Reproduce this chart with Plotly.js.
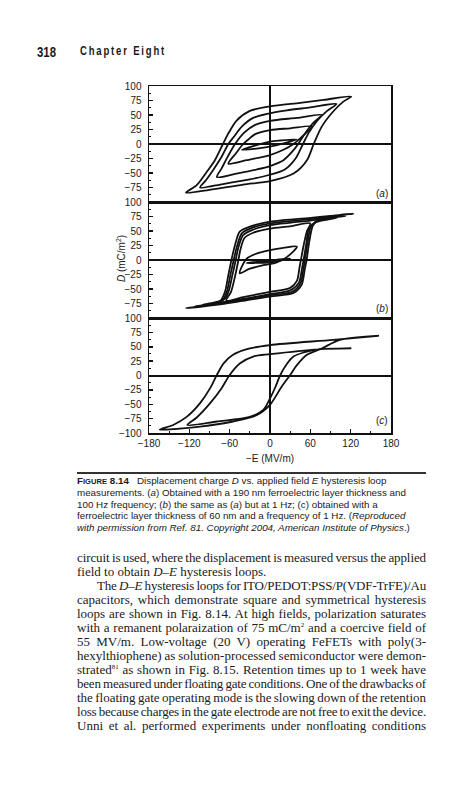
<!DOCTYPE html>
<html><head><meta charset="utf-8">
<script src="https://cdn.plot.ly/plotly-3.0.1.min.js"></script>
<style>
body{margin:0;background:#fff;}
#page{position:relative;width:469px;height:800px;overflow:hidden;background:#fff;}
#chart{position:absolute;left:0;top:0;width:469px;height:800px;}
.t{position:absolute;color:#1a1a1a;z-index:5;}
.fit{transform-origin:0 0;white-space:nowrap;}
#pno{left:37px;top:43px;font-family:"Liberation Sans",sans-serif;font-weight:bold;font-size:15px;}
#chap{left:80px;top:44px;font-family:"Liberation Sans",sans-serif;font-weight:bold;font-size:12.5px;letter-spacing:2.4px;}
#rule{position:absolute;left:77px;top:472px;width:349px;height:2px;background:#333;z-index:5;}
#cap{left:77px;top:475px;width:370px;font-family:"Liberation Sans",Arial,sans-serif;font-size:9.8px;line-height:11.4px;}
#cap div{white-space:nowrap;}
.sc{font-size:7.6px;}
#body{left:77px;top:551px;width:349px;font-family:"Liberation Serif","Times New Roman",serif;font-size:13px;line-height:14px;}
#body div{white-space:nowrap;}
#body sup{font-size:7px;line-height:0;}
</style></head><body>
<div id="page">
<div id="chart"></div>
<div class="t fit" id="pno" data-w="19">318</div>
<div class="t fit" id="chap" data-w="86">Chapter Eight</div>
<div id="rule"></div>
<div class="t" id="cap">
<div><b>F<span class="sc">IGURE</span> 8.14</b>&nbsp;&nbsp; Displacement charge <i>D</i> vs. applied field <i>E</i> hysteresis loop</div>
<div>measurements. (<i>a</i>) Obtained with a 190 nm ferroelectric layer thickness and</div>
<div>100 Hz frequency; (<i>b</i>) the same as (<i>a</i>) but at 1 Hz; (c) obtained with a</div>
<div>ferroelectric layer thickness of 60 nm and a frequency of 1 Hz. (<i>Reproduced</i></div>
<div><i>with permission from Ref. 81. Copyright 2004, American Institute of Physics</i>.)</div>
</div>
<div class="t" id="body">
<div class="j"><span>circuit is used, where the displacement is measured versus the applied</span></div>
<div><span>field to obtain <i>D–E</i> hysteresis loops.</span></div>
<div class="j" style="padding-left:20px"><span>The <i>D–E</i> hysteresis loops for ITO/PEDOT:PSS/P(VDF-TrFE)/Au</span></div>
<div class="j"><span>capacitors, which demonstrate square and symmetrical hysteresis</span></div>
<div class="j"><span>loops are shown in Fig. 8.14. At high fields, polarization saturates</span></div>
<div class="j"><span>with a remanent polaraization of 75 mC/m<sup>2</sup> and a coercive field of</span></div>
<div class="j"><span>55 MV/m. Low-voltage (20 V) operating FeFETs with poly(3-</span></div>
<div class="j"><span>hexylthiophene) as solution-processed semiconductor were demon-</span></div>
<div class="j"><span>strated<sup>81</sup> as shown in Fig. 8.15. Retention times up to 1 week have</span></div>
<div class="j"><span>been measured under floating gate conditions. One of the drawbacks of</span></div>
<div class="j"><span>the floating gate operating mode is the slowing down of the retention</span></div>
<div class="j"><span>loss because charges in the gate electrode are not free to exit the device.</span></div>
<div class="j"><span>Unni et al. performed experiments under nonfloating conditions</span></div>
</div>
</div>
<script>
// ---- axis ticks ----
const xTicks = [-180, -120, -60, 0, 60, 120, 180];
const xMinor = [-150, -90, -30, 30, 90, 150];
const yTicksAB = [-75, -50, -25, 0, 25, 50, 75, 100];
const yTicksC = [-100, -75, -50, -25, 0, 25, 50, 75, 100];
const yMinor = [-87.5, -62.5, -37.5, -12.5, 12.5, 37.5, 62.5, 87.5];
const panelLabels = ['a', 'b', 'c'];

// ---- panel (a): 190 nm, 100 Hz ----
const a1E = [121, 80, 45, 0, -30, -50, -62, -70, -82, -94, -109, -125, -90, -40, 0, 35, 55, 65, 77, 94, 109, 121];
const a1D = [82, 76, 71, 65, 57, 40, 18, 0, -28, -48, -71, -84, -79, -70, -64, -51, -28, 0, 30, 56, 73, 82];
const a2E = [99, 60, 25, 0, -25, -42, -54, -62, -72, -84, -95, -104, -70, -30, 0, 22, 38, 49, 58, 70, 85, 99];
const a2D = [69, 63, 58, 53, 45, 30, 12, 0, -22, -44, -62, -75, -69, -61, -53, -44, -25, 0, 20, 40, 57, 69];
const a3E = [77, 40, 0, -22, -38, -52, -62, -72, -79, -50, -20, 0, 20, 34, 42, 52, 64, 77];
const a3D = [50, 45, 40, 33, 20, 0, -20, -42, -57, -51, -44, -38, -28, -12, 0, 18, 36, 50];
const a4E = [62, 30, 0, -22, -34, -40, -50, -62, -35, 0, 20, 35, 48, 62];
const a4D = [30, 27, 24, 17, 6, 0, -15, -34, -28, -19, -10, 0, 13, 30];
const a5E = [40, 15, 0, -20, -42, -20, 0, 20, 40];
const a5D = [8, 6, 4, -2, -10, -8, -4.6, 1, 8];

// ---- panel (b): 190 nm, 1 Hz ----
const b1E = [124, 90, 64, 0, -30, -45, -52, -57, -62, -67, -74, -89, -125, -66, 0, 35, 47, 52, 54.5, 58.5, 64, 74, 124];
const b1D = [80, 76, 73, 66, 57.5, 49, 26, 2, -26, -55, -71, -77, -83, -75, -63, -57, -43, -14, 0, 32, 60, 71, 80];
const b2E = [112, 64, 0, -28, -42, -49, -54, -59, -64, -70, -85, -112, -62, 0, 33, 45, 50, 52, 56, 61, 71, 112];
const b2D = [76, 71, 63, 55, 46, 24, 0, -26, -54, -69, -75, -80, -73, -61, -55, -41, -13, 0, 30, 58, 68, 76];
const b3E = [100, 60, 0, -26, -40, -47, -51, -56, -61, -67, -82, -100, -60, 0, 31, 43, 48, 50, 54, 58, 68, 100];
const b3D = [73, 68, 60, 52, 43, 22, 0, -26, -52, -67, -73, -77, -71, -59, -52, -39, -12, 0, 28, 55, 65, 73];
const b4E = [60, 30, 0, -25, -38, -44, -47, -52, -58, -65, -40, 0, 30, 40, 44, 46, 50, 55, 60];
const b4D = [63, 58, 54, 47, 38, 18, 0, -28, -55, -70, -64, -55, -48, -36, -12, 0, 25, 50, 63];
const b5E = [40, 20, 0, -20, -35, -45, -30, -10, 10, 25, 40];
const b5D = [23, 21, 17, 11, 2, -23, -15, -9, -4, 5, 23];
const b6E = [30, 0, -35, 0, 30];
const b6D = [3, -1, -5, -4, 3];

// ---- panel (c): 60 nm, 1 Hz ----
const c1E = [161, 94, 0, -30, -55, -69, -79, -89, -104, -124, -144, -164, -104, -55, -20, 0, 17, 30, 40, 55, 77, 104, 161];
const c1D = [69, 62, 53, 47, 36, 21, 1, -22, -48, -72, -86, -94, -89, -80, -69, -51, -20, 1, 18, 36, 47, 62, 69];
const c2E = [121, 72, 0, -25, -45, -60, -72, -89, -109, -123, -79, -30, -10, 0, 8, 15, 25, 35, 50, 72, 121];
const c2D = [47, 45.5, 37, 33, 21, 1, -22, -48, -73, -86, -80, -72, -60, -40, -20, 0, 20, 33, 40, 45.5, 47];

const loops = [
  [a1E, a1D, 'x', 'y'], [a2E, a2D, 'x', 'y'], [a3E, a3D, 'x', 'y'], [a4E, a4D, 'x', 'y'], [a5E, a5D, 'x', 'y'],
  [b1E, b1D, 'x2', 'y2'], [b2E, b2D, 'x2', 'y2'], [b3E, b3D, 'x2', 'y2'], [b4E, b4D, 'x2', 'y2'], [b5E, b5D, 'x2', 'y2'], [b6E, b6D, 'x2', 'y2'],
  [c1E, c1D, 'x3', 'y3'], [c2E, c2D, 'x3', 'y3']
];
const traces = loops.map(l => ({
  x: l[0], y: l[1], xaxis: l[2], yaxis: l[3], type: 'scatter', mode: 'lines',
  line: {color: '#111', width: 1.8, shape: 'spline', smoothing: 0.8},
  hoverinfo: 'skip', showlegend: false
}));

const fnt = {family: 'Liberation Sans, Arial, sans-serif', size: 10, color: '#1a1a1a'};
function xa(anchor, labels) {
  return {anchor: anchor, range: [-180, 180], showline: true, linewidth: 1.5, linecolor: '#111', mirror: true,
    zeroline: true, zerolinewidth: 2, zerolinecolor: '#111', showgrid: false,
    tickmode: 'array', tickvals: xTicks, ticks: labels ? 'inside' : '', ticklen: 4, tickwidth: 1.5, tickcolor: '#111',
    minor: labels ? {tickmode: 'array', tickvals: xMinor, ticks: 'inside', ticklen: 2, tickwidth: 1, tickcolor: '#111'} : {},
    showticklabels: labels, tickfont: fnt, fixedrange: true};
}
function ya(anchor, dom, vals) {
  return {anchor: anchor, domain: dom, range: [-100, 100], showline: true, linewidth: 1.5, linecolor: '#111', mirror: true,
    zeroline: true, zerolinewidth: 2, zerolinecolor: '#111', showgrid: false,
    tickmode: 'array', tickvals: vals, ticks: 'inside', ticklen: 4, tickwidth: 1.5, tickcolor: '#111',
    minor: {tickmode: 'array', tickvals: yMinor, ticks: 'inside', ticklen: 2, tickwidth: 1, tickcolor: '#111'},
    tickfont: fnt, ticklabelstandoff: 4, fixedrange: true};
}
const layout = {
  width: 469, height: 800,
  margin: {l: 149, r: 78, t: 86, b: 367},
  paper_bgcolor: 'rgba(0,0,0,0)', plot_bgcolor: 'rgba(0,0,0,0)',
  font: fnt,
  xaxis: xa('y', false), yaxis: ya('x', [0.6657, 1], yTicksAB),
  xaxis2: xa('y2', false), yaxis2: ya('x2', [0.3314, 0.6657], yTicksAB),
  xaxis3: xa('y3', true), yaxis3: ya('x3', [0, 0.3314], yTicksC),
  annotations: [
    {text: '−E (MV/m)', xref: 'paper', yref: 'paper', x: 0.5, y: -0.073, yanchor: 'middle', showarrow: false, font: {family: fnt.family, size: 10, color: '#1a1a1a'}},
    {text: '<i>D</i> (mC/m<sup>2</sup>)', xref: 'paper', yref: 'paper', x: -0.149, y: 0.504, textangle: -90, showarrow: false, font: {family: fnt.family, size: 10, color: '#1a1a1a'}},
    {text: '(<i>' + panelLabels[0] + '</i>)', xref: 'x', yref: 'y', x: 166, y: -85, showarrow: false, font: {family: fnt.family, size: 10, color: '#1a1a1a'}},
    {text: '(<i>' + panelLabels[1] + '</i>)', xref: 'x2', yref: 'y2', x: 166, y: -83, showarrow: false, font: {family: fnt.family, size: 10, color: '#1a1a1a'}},
    {text: '(<i>' + panelLabels[2] + '</i>)', xref: 'x3', yref: 'y3', x: 166, y: -78, showarrow: false, font: {family: fnt.family, size: 10, color: '#1a1a1a'}}
  ]
};
Plotly.newPlot('chart', traces, layout, {staticPlot: true, displayModeBar: false});

// ---- page text fitting ----
function fitText() {
  document.querySelectorAll('.fit').forEach(el => {
    el.style.transform = 'none';
    const w = el.getBoundingClientRect().width;
    el.style.transform = 'scaleX(' + (parseFloat(el.dataset.w) / w) + ')';
  });
  document.querySelectorAll('#body .j').forEach(div => {
    const span = div.querySelector('span');
    span.style.wordSpacing = '0px';
    span.style.letterSpacing = '0px';
    const pad = parseFloat(div.style.paddingLeft || 0);
    const target = 349 - pad;
    const w0 = span.getBoundingClientRect().width;
    const txt = span.textContent;
    const n = (txt.match(/ /g) || []).length;
    if (!n) return;
    let ws = (target - w0) / n;
    if (ws < -0.8) {
      ws = -0.8;
      const ls = (target - w0 + 0.8 * n) / txt.length;
      span.style.letterSpacing = ls + 'px';
      span.style.wordSpacing = ws + 'px';
      const w1 = span.getBoundingClientRect().width;
      ws += (target - w1) / n;
    }
    span.style.wordSpacing = ws + 'px';
  });
}
fitText();
if (document.fonts && document.fonts.ready) document.fonts.ready.then(fitText);
</script>
</body></html>
